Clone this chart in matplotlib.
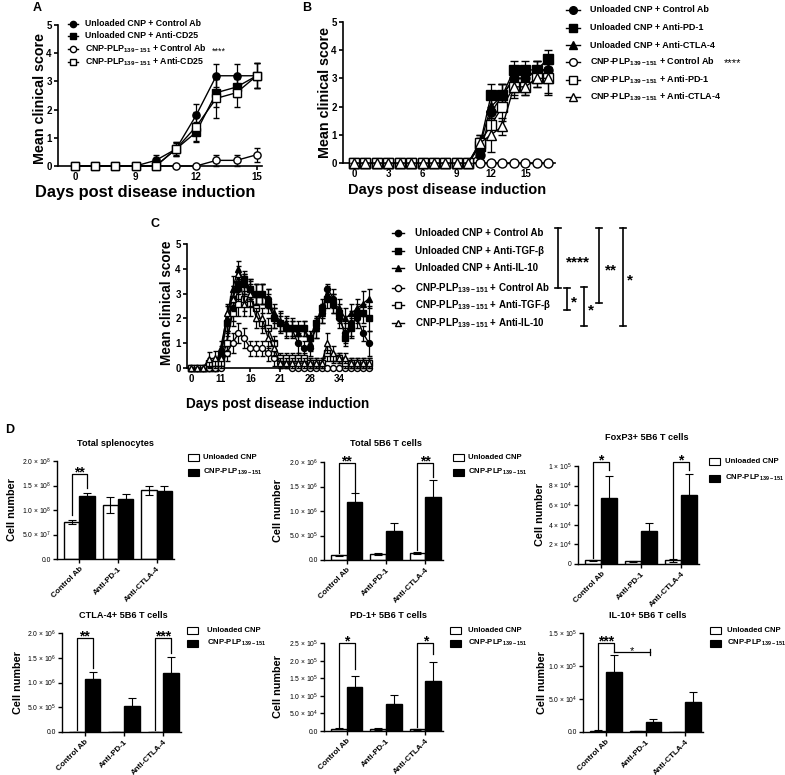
import matplotlib
matplotlib.use('Agg')
import matplotlib.pyplot as plt
from matplotlib.lines import Line2D
from matplotlib.patches import Rectangle
import numpy as np

plt.rcParams['font.family'] = ['Liberation Sans', 'DejaVu Sans']
plt.rcParams['mathtext.fontset'] = 'custom'
plt.rcParams['mathtext.rm'] = 'Liberation Sans'
plt.rcParams['mathtext.bf'] = 'Liberation Sans:bold'
plt.rcParams['mathtext.it'] = 'Liberation Sans:italic'

# ---------------- Panel A data ----------------
days_A = [0, 3, 6, 9, 10, 11, 12, 13, 14, 15]
A_tick_days = [0, 9, 12, 15]
A_unl_ctrl = [0, 0, 0, 0, 0.2, 0.6, 1.8, 3.2, 3.2, 3.2]
A_unl_ctrl_err = [0, 0, 0, 0, 0.2, 0.2, 0.4, 0.4, 0.4, 0.45]
A_unl_cd25 = [0, 0, 0, 0, 0, 0.6, 1.2, 2.6, 2.8, 3.2]
A_unl_cd25_err = [0, 0, 0, 0, 0, 0.25, 0.35, 0.5, 0.35, 0.45]
A_plp_ctrl = [0, 0, 0, 0, 0, 0, 0, 0.2, 0.2, 0.4]
A_plp_ctrl_err = [0, 0, 0, 0, 0, 0, 0, 0.2, 0.2, 0.25]
A_plp_cd25 = [0, 0, 0, 0, 0, 0.6, 1.4, 2.4, 2.6, 3.2]
A_plp_cd25_err = [0, 0, 0, 0, 0, 0.25, 0.5, 0.7, 0.5, 0.45]
A_labels = ['Unloaded CNP + Control Ab', 'Unloaded CNP + Anti-CD25',
            r'CNP-PLP$_{\mathbf{139-151}}$ + Control Ab', r'CNP-PLP$_{\mathbf{139-151}}$ + Anti-CD25']

# ---------------- Panel B data ----------------
days_B = [0, 1, 2, 3, 4, 5, 6, 7, 8, 9, 10, 11, 12, 13, 14, 15, 16, 17]
B_ticks = [0, 3, 6, 9, 12, 15]
B_unl_ctrl = [0, 0, 0, 0, 0, 0, 0, 0, 0, 0, 0, 0.3, 1.8, 2.4, 3.0, 3.0, 3.3, 3.3]
B_unl_ctrl_err = [0, 0, 0, 0, 0, 0, 0, 0, 0, 0, 0, 0.2, 0.5, 0.4, 0.3, 0.3, 0.3, 0.3]
B_unl_pd1 = [0, 0, 0, 0, 0, 0, 0, 0, 0, 0, 0, 0.6, 2.4, 2.4, 3.3, 3.3, 3.3, 3.7]
B_unl_pd1_err = [0, 0, 0, 0, 0, 0, 0, 0, 0, 0, 0, 0.3, 0.4, 0.4, 0.3, 0.3, 0.3, 0.3]
B_unl_ctla = [0, 0, 0, 0, 0, 0, 0, 0, 0, 0, 0, 0.6, 2.0, 2.4, 3.0, 3.0, 3.3, 3.3]
B_unl_ctla_err = [0, 0, 0, 0, 0, 0, 0, 0, 0, 0, 0, 0.3, 0.4, 0.4, 0.3, 0.3, 0.3, 0.3]
B_plp_ctrl = [0, 0, 0, 0, 0, 0, 0, 0, 0, 0, 0, 0, 0, 0, 0, 0, 0, 0]
B_plp_ctrl_err = [0, 0, 0, 0, 0, 0, 0, 0, 0, 0, 0, 0, 0, 0, 0, 0, 0, 0]
B_plp_pd1 = [0, 0, 0, 0, 0, 0, 0, 0, 0, 0, 0, 0.7, 1.35, 2.0, 2.7, 2.7, 3.0, 3.0]
B_plp_pd1_err = [0, 0, 0, 0, 0, 0, 0, 0, 0, 0, 0, 0.3, 0.5, 0.5, 0.4, 0.3, 0.3, 0.5]
B_plp_ctla = [0, 0, 0, 0, 0, 0, 0, 0, 0, 0, 0, 0.7, 1.0, 1.3, 2.7, 2.7, 3.0, 3.0]
B_plp_ctla_err = [0, 0, 0, 0, 0, 0, 0, 0, 0, 0, 0, 0.3, 0.6, 0.3, 0.3, 0.3, 0.3, 0.6]
B_labels = ['Unloaded CNP + Control Ab', 'Unloaded CNP + Anti-PD-1', 'Unloaded CNP + Anti-CTLA-4',
            r'CNP-PLP$_{\mathbf{139-151}}$ + Control Ab', r'CNP-PLP$_{\mathbf{139-151}}$ + Anti-PD-1',
            r'CNP-PLP$_{\mathbf{139-151}}$ + Anti-CTLA-4']

# ---------------- Panel C data ----------------
days_C = [0, 3, 7, 9, 10, 11, 12, 13, 14, 15, 16, 17, 18, 19, 20, 21, 22, 23, 24, 26,
          28, 29, 30, 31, 32, 34, 35, 36, 37, 38, 39]
C_tick_days = [0, 11, 16, 21, 28, 34]
C_unl_ctrl = [0, 0, 0, 0, 0, 0.6, 1.0, 2.4, 3.2, 3.4, 3.2, 3.0, 3.0, 2.8, 2.0, 1.8, 1.6, 1.6, 1.0, 0.8,
              0.8, 1.6, 2.2, 3.2, 2.8, 2.0, 1.4, 1.8, 2.0, 1.4, 1.0]
C_unl_ctrl_err = [0, 0, 0, 0, 0, 0.3, 0.5, 0.5, 0.4, 0.4, 0.4, 0.4, 0.4, 0.4, 0.4, 0.4, 0.4, 0.4, 0.4, 0.3,
                  0.3, 0.4, 0.4, 0.2, 0.4, 0.4, 0.4, 0.5, 0.4, 0.3, 0.5]
C_unl_tgf = [0, 0, 0, 0, 0, 0.4, 1.8, 2.8, 3.4, 3.6, 3.2, 3.0, 3.0, 2.6, 2.0, 1.8, 1.6, 1.6, 1.6, 1.6,
             1.2, 1.8, 2.4, 2.8, 2.6, 2.2, 1.2, 1.6, 2.2, 2.2, 2.0]
C_unl_tgf_err = [0, 0, 0, 0, 0, 0.3, 0.4, 0.5, 0.4, 0.3, 0.4, 0.4, 0.4, 0.4, 0.4, 0.3, 0.3, 0.3, 0.3, 0.3,
                 0.3, 0.3, 0.4, 0.4, 0.4, 0.4, 0.3, 0.4, 0.4, 0.4, 0.5]
C_unl_il10 = [0, 0, 0, 0, 0, 0.8, 2.0, 3.2, 4.0, 3.4, 3.0, 3.0, 3.0, 2.8, 2.2, 1.9, 1.8, 1.6, 1.4, 1.6,
              1.0, 1.6, 2.2, 3.0, 2.6, 2.4, 2.0, 2.2, 2.4, 2.6, 2.8]
C_unl_il10_err = [0, 0, 0, 0, 0, 0.3, 0.5, 0.5, 0.3, 0.4, 0.4, 0.4, 0.4, 0.4, 0.4, 0.4, 0.3, 0.3, 0.3, 0.3,
                  0.3, 0.4, 0.4, 0.3, 0.4, 0.4, 0.4, 0.4, 0.4, 0.5, 0.4]
C_plp_ctrl = [0, 0, 0, 0, 0, 0, 0.6, 1.0, 1.4, 1.2, 0.8, 0.8, 0.8, 0.6, 0.4, 0.2, 0.2, 0, 0, 0,
              0, 0, 0, 0, 0, 0, 0, 0, 0, 0, 0]
C_plp_ctrl_err = [0, 0, 0, 0, 0, 0, 0.3, 0.4, 0.4, 0.4, 0.3, 0.3, 0.3, 0.3, 0.3, 0.2, 0.2, 0, 0, 0,
                  0, 0, 0, 0, 0, 0, 0, 0, 0, 0, 0]
C_plp_tgf = [0, 0, 0, 0.2, 0.2, 0.2, 1.0, 2.2, 2.6, 2.8, 2.6, 2.4, 1.8, 1.6, 1.0, 0.4, 0.4, 0.4, 0.4, 0.4,
             0.2, 0.2, 0.2, 0.6, 0.4, 0.4, 0.2, 0.2, 0.2, 0.2, 0.2]
C_plp_tgf_err = [0, 0, 0, 0.2, 0.2, 0.2, 0.3, 0.5, 0.5, 0.5, 0.5, 0.5, 0.4, 0.4, 0.3, 0.2, 0.2, 0.2, 0.2, 0.2,
                 0.2, 0.2, 0.2, 0.3, 0.2, 0.2, 0.2, 0.2, 0.2, 0.2, 0.2]
C_plp_il10 = [0, 0, 0, 0.35, 0.4, 0.4, 2.2, 2.8, 3.8, 2.6, 3.0, 2.0, 2.0, 1.2, 0.8, 0.2, 0.2, 0.2, 0.2, 0.2,
              0.2, 0.2, 0.2, 1.0, 0.6, 0.4, 0.4, 0.2, 0.2, 0.2, 0.2]
C_plp_il10_err = [0, 0, 0, 0.3, 0.3, 0.3, 0.4, 0.5, 0.3, 0.5, 0.5, 0.4, 0.4, 0.4, 0.3, 0.2, 0.2, 0.2, 0.2, 0.2,
                  0.2, 0.2, 0.2, 0.4, 0.3, 0.2, 0.2, 0.2, 0.2, 0.2, 0.2]
C_labels = ['Unloaded CNP + Control Ab', 'Unloaded CNP + Anti-TGF-β', 'Unloaded CNP + Anti-IL-10',
            r'CNP-PLP$_{\mathbf{139-151}}$ + Control Ab', r'CNP-PLP$_{\mathbf{139-151}}$ + Anti-TGF-β',
            r'CNP-PLP$_{\mathbf{139-151}}$ + Anti-IL-10']

# ---------------- Panel D data ----------------
groups = ['Control Ab', 'Anti-PD-1', 'Anti-CTLA-4']
D_legend = ['Unloaded CNP', r'CNP-PLP$_{\mathbf{139-151}}$']

ts_white = [7.5e7, 1.1e8, 1.4e8]
ts_white_err = [4e6, 1.6e7, 9e6]
ts_black = [1.29e8, 1.23e8, 1.38e8]
ts_black_err = [5e6, 9e6, 1.0e7]
ts_ticks = [0, 5e7, 1e8, 1.5e8, 2e8]
ts_ticklabels = ['0.0', r'5.0 × 10$^{7}$', r'1.0 × 10$^{8}$', r'1.5 × 10$^{8}$', r'2.0 × 10$^{8}$']

t5_white = [1.0e5, 1.2e5, 1.4e5]
t5_white_err = [1e4, 2e4, 2e4]
t5_black = [1.18e6, 6.0e5, 1.28e6]
t5_black_err = [1.8e5, 1.5e5, 3.5e5]
t5_ticks = [0, 5e5, 1e6, 1.5e6, 2e6]
t5_ticklabels = ['0.0', r'5.0 × 10$^{5}$', r'1.0 × 10$^{6}$', r'1.5 × 10$^{6}$', r'2.0 × 10$^{6}$']

fox_white = [4e3, 3e3, 4e3]
fox_white_err = [5e2, 5e2, 1.5e3]
fox_black = [6.7e4, 3.4e4, 7.0e4]
fox_black_err = [2.3e4, 8e3, 2.2e4]
fox_ticks = [0, 2e4, 4e4, 6e4, 8e4, 1e5]
fox_ticklabels = ['0', r'2 × 10$^{4}$', r'4 × 10$^{4}$', r'6 × 10$^{4}$', r'8 × 10$^{4}$', r'1 × 10$^{5}$']

ctla_white = [8e3, 6e3, 8e3]
ctla_white_err = [2e3, 2e3, 2e3]
ctla_black = [1.07e6, 5.3e5, 1.19e6]
ctla_black_err = [1.5e5, 1.5e5, 3.3e5]
ctla_ticks = [0, 5e5, 1e6, 1.5e6, 2e6]
ctla_ticklabels = ['0.0', r'5.0 × 10$^{5}$', r'1.0 × 10$^{6}$', r'1.5 × 10$^{6}$', r'2.0 × 10$^{6}$']

pd1_white = [7e3, 6e3, 5e3]
pd1_white_err = [2e3, 2e3, 1.5e3]
pd1_black = [1.24e5, 7.7e4, 1.41e5]
pd1_black_err = [3.1e4, 2.5e4, 5.4e4]
pd1_ticks = [0, 5e4, 1e5, 1.5e5, 2e5, 2.5e5]
pd1_ticklabels = ['0.0', r'5.0 × 10$^{4}$', r'1.0 × 10$^{5}$', r'1.5 × 10$^{5}$', r'2.0 × 10$^{5}$',
                  r'2.5 × 10$^{5}$']

il10_white = [2e3, 1.5e3, 0]
il10_white_err = [5e2, 5e2, 0]
il10_black = [9.1e4, 1.5e4, 4.6e4]
il10_black_err = [2.5e4, 5e3, 1.4e4]
il10_ticks = [0, 5e4, 1e5, 1.5e5]
il10_ticklabels = ['0.0', r'5.0 × 10$^{4}$', r'1.0 × 10$^{5}$', r'1.5 × 10$^{5}$']

# ---------------- figure helpers ----------------
W, H = 785, 775
fig = plt.figure(figsize=(W / 100, H / 100), dpi=100)


def add_ax(l, t, r, b):
    return fig.add_axes([l / W, 1 - b / H, (r - l) / W, (b - t) / H])


def fx(x):
    return x / W


def fy(y):
    return 1 - y / H


def style_ax(ax, lw=1.2, fs=7, bold=True):
    for s in ['top', 'right']:
        ax.spines[s].set_visible(False)
    for s in ['left', 'bottom']:
        ax.spines[s].set_linewidth(lw)
    ax.tick_params(direction='out', length=3, width=lw, pad=1.5, labelsize=fs)
    if bold:
        for lab in ax.get_xticklabels() + ax.get_yticklabels():
            lab.set_fontweight('bold')


def draw_series(ax, x, y, err, marker, filled, ms, z, cap=2.2):
    c = ax.errorbar(x, y, yerr=err, color='black', lw=1.0, marker=marker, ms=ms,
                    mfc='black' if filled else 'white', mec='black', mew=1.0,
                    capsize=cap, elinewidth=0.9, capthick=0.9, zorder=z)
    for a in c.get_children():
        a.set_clip_on(False)


def legend_entry(xm, y, marker, filled, ms, text, xt, fs, half=6):
    fig.add_artist(Line2D([fx(xm - half), fx(xm + half)], [fy(y), fy(y)], color='black', lw=1.0))
    fig.add_artist(Line2D([fx(xm)], [fy(y)], marker=marker, ms=ms, ls='none',
                          mfc='black' if filled else 'white', mec='black', mew=1.0))
    fig.text(fx(xt), fy(y), text, fontsize=fs, fontweight='bold', va='center', ha='left')


def vbracket(x, y1, y2, cap=3, lw=1.2):
    fig.add_artist(Line2D([fx(x), fx(x)], [fy(y1), fy(y2)], color='black', lw=lw))
    for yy in (y1, y2):
        fig.add_artist(Line2D([fx(x - cap), fx(x + cap)], [fy(yy), fy(yy)], color='black', lw=lw))


markers = ['o', 's', '^', 'o', 's', '^']
filled = [True, True, True, False, False, False]

# ---------------- Panel A ----------------
axA = add_ax(58, 25, 262, 166)
xA = np.arange(len(days_A))
A_series = [(A_unl_ctrl, A_unl_ctrl_err, 'o', True), (A_unl_cd25, A_unl_cd25_err, 's', True),
            (A_plp_ctrl, A_plp_ctrl_err, 'o', False), (A_plp_cd25, A_plp_cd25_err, 's', False)]
for i, (v, e, m, f) in enumerate(A_series):
    draw_series(axA, xA, v, e, m, f, 5.2, 3 + i)
axA.set_xlim(-0.84, 9.26)
axA.set_ylim(0, 5)
axA.set_yticks([0, 1, 2, 3, 4, 5])
axA.set_xticks([days_A.index(d) for d in A_tick_days])
axA.set_xticklabels([str(d) for d in A_tick_days])
style_ax(axA)
fig.text(fx(37), fy(8), 'A', fontsize=9, fontweight='bold', ha='center', va='center')
fig.text(fx(40), fy(98), 'Mean clinical score', rotation=90, fontsize=10.3, fontweight='bold',
         ha='center', va='center')
fig.text(fx(145), fy(192), 'Days post disease induction', fontsize=11.8, fontweight='bold',
         ha='center', va='center')
A_rows = [24, 36, 49, 62]
for (v, e, m, f), lab, yy in zip(A_series, A_labels, A_rows):
    legend_entry(73, yy, m, f, 4.5, lab, 85, 6.3, half=5)
fig.text(fx(219), fy(51), '****', fontsize=6.5, ha='center', va='center')

# ---------------- Panel B ----------------
axB = add_ax(343, 22, 555, 163)
B_series = [(B_unl_ctrl, B_unl_ctrl_err), (B_unl_pd1, B_unl_pd1_err), (B_unl_ctla, B_unl_ctla_err),
            (B_plp_ctrl, B_plp_ctrl_err), (B_plp_pd1, B_plp_pd1_err), (B_plp_ctla, B_plp_ctla_err)]
for i, (v, e) in enumerate(B_series):
    draw_series(axB, days_B, v, e, markers[i], filled[i], 6.5, 3 + i, cap=2.8)
axB.set_xlim(-0.96, 17.6)
axB.set_ylim(0, 5)
axB.set_yticks([0, 1, 2, 3, 4, 5])
axB.set_xticks(B_ticks)
style_ax(axB)
fig.text(fx(307), fy(8), 'B', fontsize=9, fontweight='bold', ha='center', va='center')
fig.text(fx(325), fy(93), 'Mean clinical score', rotation=90, fontsize=10.3, fontweight='bold',
         ha='center', va='center')
fig.text(fx(447), fy(190), 'Days post disease induction', fontsize=10.5, fontweight='bold',
         ha='center', va='center')
B_rows = [10, 28, 45, 62, 80, 97]
for i, (lab, yy) in enumerate(zip(B_labels, B_rows)):
    legend_entry(573, yy, markers[i], filled[i], 5.5, lab, 590, 6.5, half=7)
fig.text(fx(733), fy(63), '****', fontsize=8, ha='center', va='center')

# ---------------- Panel C ----------------
axC = add_ax(187, 244, 372, 368)
xC = np.arange(len(days_C))
C_series = [(C_unl_ctrl, C_unl_ctrl_err), (C_unl_tgf, C_unl_tgf_err), (C_unl_il10, C_unl_il10_err),
            (C_plp_ctrl, C_plp_ctrl_err), (C_plp_tgf, C_plp_tgf_err), (C_plp_il10, C_plp_il10_err)]
for i, (v, e) in enumerate(C_series):
    draw_series(axC, xC, v, e, markers[i], filled[i], 4.3, 3 + i, cap=1.8)
axC.set_xlim(-0.67, 30.5)
axC.set_ylim(0, 5)
axC.set_yticks([0, 1, 2, 3, 4, 5])
axC.set_xticks([days_C.index(d) for d in C_tick_days])
axC.set_xticklabels([str(d) for d in C_tick_days])
style_ax(axC)
fig.text(fx(155), fy(224), 'C', fontsize=9, fontweight='bold', ha='center', va='center')
fig.text(fx(167), fy(303), 'Mean clinical score', rotation=90, fontsize=9.8, fontweight='bold',
         ha='center', va='center')
fig.text(fx(278), fy(404), 'Days post disease induction', fontsize=9.8, fontweight='bold',
         ha='center', va='center')
C_rows = [233, 251, 268, 288, 305, 323]
for i, (lab, yy) in enumerate(zip(C_labels, C_rows)):
    legend_entry(398, yy, markers[i], filled[i], 4.5, lab, 415, 7, half=6)
vbracket(558, 228, 288)
vbracket(567, 288, 310)
vbracket(584, 287, 326)
vbracket(599, 228, 303)
vbracket(623, 228, 326)
for txt, xx, yy in [('****', 578, 262), ('*', 574, 302), ('*', 591, 310), ('**', 611, 270), ('*', 630, 280)]:
    fig.text(fx(xx), fy(yy), txt, fontsize=11, fontweight='bold', ha='center', va='center')

# ---------------- Panel D ----------------
fig.text(fx(10), fy(430), 'D', fontsize=9, fontweight='bold', ha='center', va='center')


def bar_panel(box, white, werr, black, berr, ymax, ticks, ticklabels, title, title_xy,
              ylabel_x, leg_box_x, leg_text_x, leg_rows, brackets):
    ax = add_ax(*box)
    x = np.arange(len(groups))
    w = 0.4
    ax.bar(x - w / 2, white, w, color='white', edgecolor='black', lw=1.0, zorder=2)
    ax.bar(x + w / 2, black, w, color='black', edgecolor='black', lw=1.0, zorder=2)
    ax.errorbar(x - w / 2, white, yerr=werr, fmt='none', ecolor='black', elinewidth=0.8,
                capsize=2.6, capthick=0.8, zorder=3)
    ax.errorbar(x + w / 2, black, yerr=berr, fmt='none', ecolor='black', elinewidth=0.8,
                capsize=2.6, capthick=0.8, zorder=1)
    ax.set_xlim(-0.58, 2.45)
    ax.set_ylim(0, ymax)
    ax.set_yticks(ticks)
    ax.set_yticklabels(ticklabels)
    ax.set_xticks(x)
    ax.set_xticklabels(groups, rotation=45, ha='right', rotation_mode='anchor')
    style_ax(ax, lw=1.0, fs=4.9, bold=False)
    for lab in ax.get_xticklabels():
        lab.set_fontsize(5.8)
        lab.set_fontweight('bold')
    fig.text(fx(title_xy[0]), fy(title_xy[1]), title, fontsize=6.6, fontweight='bold',
             ha='center', va='center')
    fig.text(fx(ylabel_x), fy((box[1] + box[3]) / 2), 'Cell number', rotation=90, fontsize=7.8,
             fontweight='bold', ha='center', va='center')
    for j, (fc, lab) in enumerate(zip(['white', 'black'], D_legend)):
        yy = leg_rows[j]
        fig.add_artist(Rectangle((fx(leg_box_x), fy(yy + 3.5)), 11 / W, 7 / H, facecolor=fc,
                                 edgecolor='black', lw=0.8))
        fig.text(fx(leg_text_x), fy(yy), lab, fontsize=5.6, fontweight='bold', ha='left', va='center')
    for (g, top, lo1, lo2, txt) in brackets:
        x1, x2 = g - w / 2, g + w / 2
        ax.plot([x1, x1, x2, x2], [lo1, top, top, lo2], color='black', lw=0.9, clip_on=False, zorder=4)
        ax.annotate(txt, xy=(g, top), xytext=(0, -1.5), textcoords='offset points', ha='center',
                    va='baseline', fontsize=10, fontweight='bold', annotation_clip=False)
    return ax


bar_panel((57, 461, 174, 559), ts_white, ts_white_err, ts_black, ts_black_err, 2e8, ts_ticks,
          ts_ticklabels, 'Total splenocytes', (115, 444), 12, 188, 203, (457, 472),
          [(0, 1.73e8, 0.9e8, 1.45e8, '**')])
bar_panel((324, 462, 443, 560), t5_white, t5_white_err, t5_black, t5_black_err, 2e6, t5_ticks,
          t5_ticklabels, 'Total 5B6 T cells', (386, 444), 278, 453, 468, (457, 472),
          [(0, 1.98e6, 0.14e6, 1.39e6, '**'), (2, 1.98e6, 0.2e6, 1.7e6, '**')])
bar_panel((578, 466, 699, 564), fox_white, fox_white_err, fox_black, fox_black_err, 1e5, fox_ticks,
          fox_ticklabels, 'FoxP3+ 5B6 T cells', (647, 438), 540, 709, 725, (462, 478),
          [(0, 1.04e5, 6e3, 9.6e4, '*'), (2, 1.04e5, 6e3, 9.6e4, '*')])
bar_panel((62, 633, 181, 732), ctla_white, ctla_white_err, ctla_black, ctla_black_err, 2e6, ctla_ticks,
          ctla_ticklabels, 'CTLA-4+ 5B6 T cells', (123, 615), 18, 187, 207, (630, 643),
          [(0, 1.9e6, 0.05e6, 1.3e6, '**'), (2, 1.9e6, 0.05e6, 1.6e6, '***')])
bar_panel((324, 643, 443, 731), pd1_white, pd1_white_err, pd1_black, pd1_black_err, 2.5e5, pd1_ticks,
          pd1_ticklabels, 'PD-1+ 5B6 T cells', (388, 616), 278, 450, 468, (630, 643),
          [(0, 2.5e5, 1e4, 1.76e5, '*'), (2, 2.5e5, 1e4, 2.19e5, '*')])
axIL = bar_panel((583, 633, 703, 732), il10_white, il10_white_err, il10_black, il10_black_err, 1.5e5,
                 il10_ticks, il10_ticklabels, 'IL-10+ 5B6 T cells', (648, 615), 542, 710, 727, (630, 643),
                 [(0, 1.35e5, 4e3, 1.21e5, '***')])
# comparison bracket Control Ab vs Anti-PD-1 (CNP-PLP groups)
axIL.plot([0.2, 1.12], [1.21e5, 1.21e5], color='black', lw=0.9, clip_on=False, zorder=4)
axIL.plot([1.12, 1.12], [1.16e5, 1.26e5], color='black', lw=0.9, clip_on=False, zorder=4)
axIL.annotate('*', xy=(0.66, 1.21e5), xytext=(0, -1.5), textcoords='offset points', ha='center',
              va='baseline', fontsize=8, annotation_clip=False)

fig.savefig('out.png', dpi=100)
